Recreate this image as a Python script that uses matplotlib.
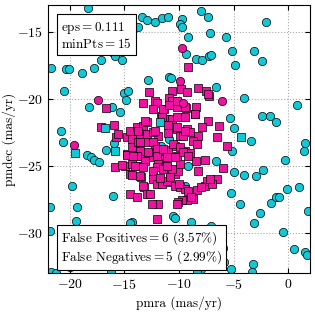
import numpy as np
import matplotlib
matplotlib.use("Agg")
import matplotlib.pyplot as plt

plt.rcParams['font.family'] = 'serif'
plt.rcParams['font.serif'] = ['cmr10']
plt.rcParams['mathtext.fontset'] = 'cm'
plt.rcParams['axes.formatter.use_mathtext'] = True

# noise points correctly left out of the cluster (cyan circles)
noise_x = [-18.36, -13.36, -12.91, -12.18, -11.55, -11.0, -9.73, -9.91, -9.73, -13.73,
           -8.0, -7.36, -2.0, -9.18, -7.18, -5.73, -5.18, -3.09, -2.36, -4.82,
           -9.36, -8.45, -7.91, -7.27, -7.09, -12.82, -10.91, -10.73, -6.64, -4.0,
           0.82, -5.36, -5.0, -2.36, -1.64, -1.09, -3.36, -5.18, 1.55, 1.45,
           -0.27, -6.64, -5.0, -4.0, -2.91, -2.27, -0.09, 1.0, -5.27, -4.45,
           -1.55, -1.09, -0.82, -2.55, -3.09, -10.55, -10.36, -8.91, -7.09, -0.45,
           1.82, 0.55, 1.55, 1.73, -6.0, -6.09, -5.91, -5.27, -3.18, -3.27,
           -8.0, -8.36, -14.27, -9.45, -10.91, -14.09, -11.64, -9.18,
           -16.27, -16.09, -15.82, -15.18, -17.09, -17.82, -18.91, -20.36, -20.09, -21.7,
           -20.55, -15.0, -14.64, -14.82, -18.27, -16.09, -15.36,
           -20.82, -20.64, -18.45, -18.09, -17.82, -17.36, -16.64, -15.91,
           -19.82, -19.36, -19.45, -21.82, -21.82, -16.0, -14.45, -20.0, -16.18, -21.73, -21.27]
noise_y = [-13.22, -13.88, -14.11, -14.26, -13.96, -13.88, -14.03, -14.41, -14.63, -14.63,
           -13.44, -13.88, -14.26, -15.37, -15.07, -15.37, -16.41, -16.41, -17.16, -17.45,
           -16.64, -17.0, -17.08, -16.78, -16.71, -18.57, -18.35, -18.42, -19.09, -19.91,
           -20.43, -21.47, -22.21, -21.32, -21.25, -21.77, -23.18, -23.92, -23.33, -23.92,
           -24.59, -24.67, -25.48, -25.71, -25.78, -25.33, -26.75, -26.6, -27.04, -27.86,
           -27.79, -27.34, -27.34, -28.53, -29.28, -28.75, -28.9, -29.2, -29.5, -29.94,
           -28.38, -31.2, -31.43, -31.65, -31.13, -32.1, -32.18, -32.7, -32.32, -32.9,
           -32.7, -32.9, -29.2, -26.52, -23.03, -23.77, -23.55, -25.04,
           -16.12, -16.49, -16.78, -17.08, -17.08, -17.68, -18.05, -17.75, -17.75, -17.68,
           -19.39, -19.54, -19.39, -20.06, -20.58, -20.58, -20.95,
           -22.43, -23.25, -24.22, -24.37, -24.59, -24.74, -23.85, -23.33,
           -26.52, -28.09, -29.13, -28.09, -29.87, -27.27, -29.28, -32.55, -32.84, -32.92, -33.0]

# cluster members correctly found (magenta squares)
member_x = [-9.18, -10.64, -9.82, -9.27, -8.27, -7.55, -7.27, -10.91, -10.64, -12.18,
            -11.36, -10.18, -9.36, -8.45, -8.55, -11.64, -11.09, -10.64, -9.45, -7.36,
            -7.91, -6.36, -11.0, -10.18, -9.27, -9.0, -9.91, -11.91, -11.0, -12.18,
            -10.36, -9.64, -8.27, -6.55, -8.73, -8.36, -5.64, -11.91, -11.0, -9.45,
            -9.0, -10.18,
            -8.45, -7.64, -6.0, -6.55, -7.64, -8.36, -8.73, -9.27, -9.73, -10.09,
            -12.0, -11.91, -11.55, -11.0, -10.82, -10.36, -10.09, -9.91, -11.27, -11.91,
            -10.36, -9.91, -9.45,
            -15.82, -14.91, -14.27, -13.55, -14.45, -13.45, -13.18, -14.45, -13.82, -12.45,
            -12.91, -12.36, -12.0, -12.0, -12.64, -13.27, -14.73, -14.0,
            -13.27, -12.64, -11.55, -11.09, -10.0, -9.18, -10.18, -8.91, -7.45, -7.0, -8.0,
            -16.64, -17.18, -15.91, -15.73, -14.73, -14.45, -14.27, -14.73, -15.18, -14.27,
            -15.55, -13.82, -13.27, -12.91, -13.55, -12.91, -12.36, -14.27, -13.73, -12.91,
            -12.36, -12.0, -12.82, -13.55, -13.82, -12.0,
            -13.27, -12.73, -12.0, -11.45, -10.91, -10.18, -9.45, -8.55, -7.36, -12.36,
            -13.09, -13.73, -12.18, -11.55, -10.18, -10.18, -9.45, -13.55, -11.45, -10.55,
            -9.91, -9.64, -13.09, -11.09, -10.36, -9.18, -14.0, -13.27, -12.36, -11.45,
            -10.64, -8.27, -13.55, -11.73, -10.82, -7.18, -11.09, -14.18]
member_y = [-17.6, -19.39, -19.24, -19.46, -19.16, -19.39, -19.76, -19.91, -20.2, -20.2,
            -20.8, -20.65, -20.72, -20.58, -21.1, -21.32, -21.54, -21.54, -21.39, -21.69,
            -22.14, -22.06, -21.99, -22.29, -22.29, -22.51, -22.81, -22.81, -22.58, -23.55,
            -23.55, -22.81, -22.81, -22.88, -23.18, -23.4, -23.55, -23.92, -23.85, -23.92,
            -24.07, -24.29,
            -24.67, -24.59, -25.19, -26.0, -26.52, -26.82, -27.49, -27.57, -27.57, -27.71,
            -28.98, -27.86, -26.23, -26.23, -25.78, -25.63, -25.41, -24.89, -24.52, -24.81,
            -26.52, -26.6, -26.75,
            -25.11, -25.04, -24.89, -25.04, -25.63, -25.86, -26.6, -27.12, -27.34, -27.86,
            -27.12, -26.0, -26.38, -25.11, -24.37, -24.29, -24.14, -24.14,
            -26.52, -27.12, -26.38, -26.15, -26.38, -26.9, -27.86, -27.34, -26.15, -26.38, -26.6,
            -20.72, -22.14, -21.99, -22.88, -22.88, -22.44, -23.62, -24.22, -24.96, -25.71,
            -22.66, -22.14, -22.06, -21.77, -22.81, -22.66, -22.51, -23.03, -23.25, -23.25,
            -23.25, -23.77, -24.0, -23.92, -24.29, -24.29,
            -20.28, -19.46, -20.28, -20.8, -20.43, -20.2, -20.65, -21.17, -19.68, -20.8,
            -21.69, -22.44, -22.44, -21.39, -21.39, -22.14, -22.44, -23.25, -23.77, -23.4,
            -23.62, -24.0, -24.67, -24.37, -24.37, -24.29, -25.04, -25.11, -25.41, -25.26,
            -25.26, -25.41, -25.78, -25.93, -25.86, -26.0, -25.04, -24.29]

# false positives (magenta circles) and false negatives (cyan squares)
fp_x = [-9.73, -9.91, -6.09, -17.45, -19.64, -9.64]
fp_y = [-16.19, -18.64, -20.2, -20.06, -23.48, -20.3]
fn_x = [-19.55, -15.82, -16.73, -4.36, -11.73]
fn_y = [-24.07, -23.92, -22.2, -22.88, -21.7]

eps = 0.111
min_pts = 15
n_fp, pct_fp = 6, 3.57
n_fn, pct_fn = 5, 2.99

cyan = '#13c8d6'
magenta = '#ec139f'

fig = plt.figure(figsize=(3.15, 3.13), dpi=100)
ax = fig.add_axes([0.152, 0.128, 0.832, 0.856])

ax.scatter(noise_x, noise_y, s=36, marker='o', c=cyan, edgecolors='k', linewidths=0.5, zorder=2)
ax.scatter(member_x, member_y, s=36, marker='s', c=magenta, edgecolors='k', linewidths=0.5, zorder=3)
ax.scatter(fp_x, fp_y, s=36, marker='o', c=magenta, edgecolors='k', linewidths=0.5, zorder=4)
ax.scatter(fn_x, fn_y, s=36, marker='s', c=cyan, edgecolors='k', linewidths=0.5, zorder=4)

ax.set_xlim(-22, 2)
ax.set_ylim(-33, -13)
ax.set_xticks([-20, -15, -10, -5, 0])
ax.set_yticks([-15, -20, -25, -30])
ax.grid(True, linestyle=':', color='#aaaaaa', linewidth=0.8)
ax.set_axisbelow(True)
ax.tick_params(direction='in', top=True, right=True, labelsize=10)
ax.set_xlabel('pmra (mas/yr)', fontsize=9.5, labelpad=3)
ax.set_ylabel('pmdec (mas/yr)', fontsize=9.5, labelpad=1)

box = dict(boxstyle='square,pad=0.3', facecolor='white', edgecolor='k', linewidth=0.8)
ax.text(0.05, 0.945, r'eps$=%.3f$' % eps + '\n' + r'minPts$=%d$' % min_pts,
        transform=ax.transAxes, ha='left', va='top', fontsize=9.5, bbox=box, zorder=10,
        linespacing=1.1)
ax.text(0.05, 0.025,
        r'False Positives$=%d$ $(%.2f\%%)$' % (n_fp, pct_fp) + '\n' +
        r'False Negatives$=%d$ $(%.2f\%%)$' % (n_fn, pct_fn),
        transform=ax.transAxes, ha='left', va='bottom', fontsize=9.5, bbox=box, zorder=10,
        linespacing=1.1)

fig.savefig('out.png', dpi=100)
